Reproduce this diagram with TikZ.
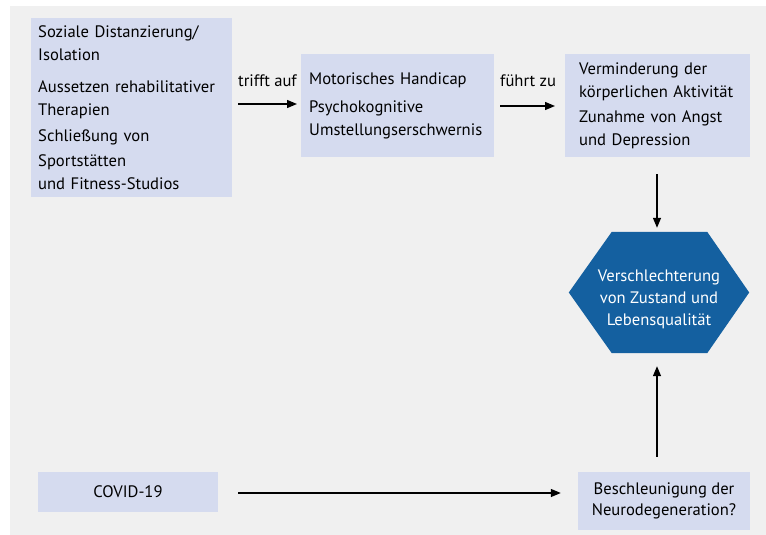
\documentclass[tikz,border=0pt]{standalone}
\usepackage{fontspec}
\setmainfont{PT Sans}
\usetikzlibrary{arrows.meta,positioning}
\definecolor{bggray}{HTML}{F0F0F0}
\definecolor{boxfill}{HTML}{D5DBEF}
\definecolor{hexblue}{HTML}{1460A0}
\newcommand{\ind}[1]{\hspace*{#1}}
\tikzset{
  box/.style={fill=boxfill, inner sep=0pt, align=left, anchor=north west,
    font=\fontsize{16.6}{22.8}\selectfont},
  cbox/.style={fill=boxfill, inner sep=0pt, align=center,
    font=\fontsize{16.6}{21}\selectfont},
  arr/.style={-{Triangle[length=10pt,width=8pt]}, line width=1.3pt, black},
  lbl/.style={font=\fontsize{16.6}{18}\selectfont, inner sep=0pt, anchor=base west},
  hextxt/.style={text=white, align=center, font=\fontsize{16.6}{22}\selectfont, inner sep=0pt}
}
\begin{document}
\begin{tikzpicture}[x=1pt,y=-1pt]
\useasboundingbox (0,0) rectangle (766,535);
\fill[bggray] (10,6) rectangle (766,535);

\node[box, minimum width=201pt, minimum height=179pt, text width=201pt] (b1) at (31,18)
  {\ind{7pt}Soziale Distanzierung/\\\ind{7pt}Isolation\\[9pt]
   \ind{7pt}Aussetzen rehabilitativer\\\ind{7pt}Therapien\\[4pt]
   \ind{7pt}Schließung von\\[2pt]\ind{7pt}Sportstätten\\\ind{7pt}und Fitness-Studios};

\node[box, minimum width=193pt, minimum height=103pt, text width=193pt] (b2) at (301,54)
  {\ind{8pt}Motorisches Handicap\\[6pt]\ind{8pt}Psychokognitive\\\ind{8pt}Umstellungserschwernis};

\node[box, minimum width=185pt, minimum height=103pt, text width=185pt] (b3) at (565,54)
  {\ind{14pt}Verminderung der\\\ind{14pt}körperlichen Aktivität\\[3pt]
   \ind{14pt}Zunahme von Angst\\\ind{14pt}und Depression};

\node[lbl] (l1) at (238,87) {trifft auf};
\node[lbl] (l2) at (500,87) {führt zu};

\draw[arr, shorten <=6pt, shorten >=4pt] (b1.east |- 0,104) -- (b2.west |- 0,104);
\draw[arr, shorten <=6pt, shorten >=10pt] (b2.east |- 0,106) -- (b3.west |- 0,106);

% hexagon
\node[minimum width=180pt, minimum height=121pt, inner sep=0pt] (hex) at (659,292.5) {};
\fill[hexblue] (hex.west) -- ([xshift=43pt]hex.north west) -- ([xshift=-42pt]hex.north east)
  -- (hex.east) -- ([xshift=-42pt]hex.south east) -- ([xshift=43pt]hex.south west) -- cycle;
\node[hextxt] (hext) at (659,299) {Verschlechterung\\von Zustand und\\Lebensqualität};

\draw[arr, shorten <=17pt, shorten >=4pt] (b3.south -| 657,0) -- (hex.north -| 657,0);

% bottom row
\node[cbox, minimum width=180pt, minimum height=40pt] (covid) at (128,492) {COVID-19};
\node[cbox, minimum width=172pt, minimum height=58pt] (besch) at (664,501)
  {Beschleunigung der\\Neurodegeneration?};

\draw[arr, shorten <=20pt, shorten >=17pt] (covid.east |- 0,493) -- (besch.west |- 0,493);
\draw[arr, shorten <=15pt, shorten >=13pt] (besch.north -| 657,0) -- (hex.south -| 657,0);
\end{tikzpicture}
\end{document}
